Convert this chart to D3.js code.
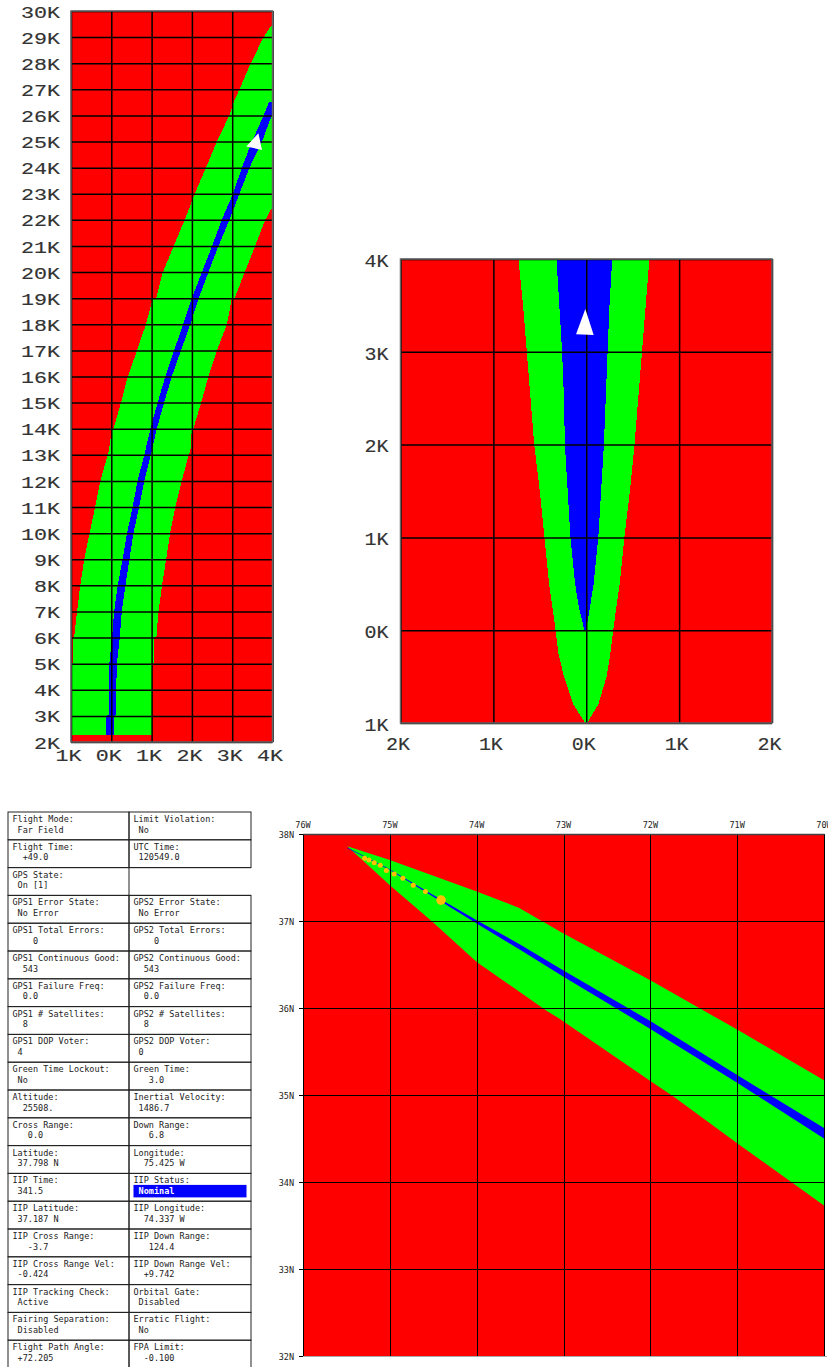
<!DOCTYPE html>
<html>
<head>
<meta charset="utf-8">
<script src="https://cdn.jsdelivr.net/npm/d3@7"></script>
<style>
  html, body { margin: 0; padding: 0; background: #fff; overflow: hidden; }
  svg { display: block; }
  .wide text { font-family: "Liberation Mono", monospace; fill: #333; stroke: #333; stroke-width: 0.15px; }
  .small text { font-family: "DejaVu Sans Mono", monospace; font-size: 8.5px; fill: #222; }
  .cell text { font-family: "DejaVu Sans Mono", monospace; font-size: 8.5px; fill: #222; white-space: pre; }
</style>
</head>
<body>
<div id="chart"></div>
<script>
// Altitude strip (top left): crossrange in K, altitude in K
const stripXTicks = [-1, 0, 1, 2, 3, 4];
const stripYTicks = [2, 3, 4, 5, 6, 7, 8, 9, 10, 11, 12, 13, 14, 15, 16, 17, 18, 19, 20, 21, 22, 23, 24, 25, 26, 27, 28, 29, 30];
const stripGreenAlt = [2.28, 5, 5.02, 6, 6.02, 7, 8, 9, 10, 11, 12, 13, 13.1, 14, 14.03, 15, 16, 17, 18, 19, 19.03, 20, 21, 22, 22.5, 23, 24, 25, 26, 26.45, 27, 28, 29, 29.5];
const stripGreenLeft = [-1, -1, -0.96, -0.95, -0.92, -0.85, -0.77, -0.67, -0.54, -0.40, -0.27, -0.09, -0.07, 0.02, 0.06, 0.24, 0.41, 0.64, 0.86, 1.03, 1.12, 1.28, 1.55, 1.82, 1.95, 2.07, 2.35, 2.62, 2.93, 3.02, 3.18, 3.46, 3.78, 4];
const stripGreenRight = [1, 1, 1.05, 1.05, 1.12, 1.17, 1.26, 1.36, 1.46, 1.59, 1.75, 1.92, 1.96, 2, 2.04, 2.23, 2.41, 2.62, 2.87, 2.99, 3.07, 3.31, 3.57, 3.82, 4, 4, 4, 4, 4, 4, 4, 4, 4, 4];
const stripBlueAlt = [2.28, 3, 3.05, 4, 5, 6, 7, 8, 9, 10, 11, 12, 13, 14, 15, 16, 17, 18, 19, 20, 21, 22, 23, 24, 25, 26, 26.5];
const stripBlueLeft = [-0.12, -0.12, -0.05, -0.05, -0.05, 0.02, 0.07, 0.16, 0.28, 0.39, 0.53, 0.65, 0.82, 0.97, 1.15, 1.34, 1.56, 1.78, 2, 2.25, 2.5, 2.74, 3.02, 3.24, 3.49, 3.78, 3.91];
const stripBlueRight = [0.07, 0.07, 0.12, 0.12, 0.14, 0.21, 0.26, 0.35, 0.45, 0.55, 0.69, 0.82, 0.98, 1.13, 1.31, 1.5, 1.73, 1.96, 2.17, 2.41, 2.66, 2.93, 3.18, 3.43, 3.74, 3.98, 4];
const stripVehicleX = [3.65, 3.35, 3.74];
const stripVehicleY = [25.32, 24.81, 24.68];

// Launch area (top right)
const padXTicks = [-2, -1, 0, 1, 2];
const padYTicks = [-1, 0, 1, 2, 3, 4];
const padGreenAlt = [-1, -0.8, -0.5, -0.25, 0, 0.5, 1, 1.5, 2, 2.5, 3, 3.5, 4];
const padGreenLeft = [-0.01, -0.14, -0.24, -0.30, -0.33, -0.40, -0.45, -0.50, -0.56, -0.60, -0.64, -0.68, -0.73];
const padGreenRight = [0.01, 0.13, 0.22, 0.26, 0.29, 0.36, 0.41, 0.47, 0.52, 0.56, 0.60, 0.64, 0.68];
const padBlueAlt = [0, 0.25, 0.5, 1, 1.5, 2, 2.5, 3, 3.5, 4];
const padBlueLeft = [-0.02, -0.08, -0.12, -0.17, -0.20, -0.23, -0.24, -0.26, -0.29, -0.32];
const padBlueRight = [0, 0.04, 0.08, 0.13, 0.16, 0.19, 0.21, 0.23, 0.25, 0.28];
const padVehicleX = [-0.01, -0.11, 0.08];
const padVehicleY = [3.46, 3.19, 3.18];

// Map (bottom right)
const lonTicks = [76, 75, 74, 73, 72, 71, 70];
const latTicks = [38, 37, 36, 35, 34, 33, 32];
const greenUpperLon = [75.49, 75, 74, 73.51, 72.99, 72, 70.98, 70];
const greenUpperLat = [37.86, 37.70, 37.34, 37.15, 36.85, 36.32, 35.74, 35.17];
const greenLowerLon = [70, 70.98, 71.73, 72, 73.05, 73.2, 74, 74.51, 75, 75.49];
const greenLowerLat = [33.73, 34.43, 34.98, 35.16, 35.88, 35.97, 36.53, 36.99, 37.41, 37.86];
const blueLon = [75.49, 75.29, 75, 74.5, 74, 73.5, 73, 72, 71, 70];
const blueTop = [37.845, 37.745, 37.595, 37.30, 37.01, 36.73, 36.43, 35.85, 35.23, 34.62];
const blueBottom = [37.835, 37.735, 37.585, 37.28, 36.97, 36.67, 36.36, 35.76, 35.14, 34.50];
const trackLon = [75.29, 75.24, 75.18, 75.11, 75.04, 74.95, 74.85, 74.73, 74.59];
const trackLat = [37.72, 37.70, 37.67, 37.64, 37.58, 37.54, 37.49, 37.41, 37.34];
const iipLon = 74.41, iipLat = 37.24;

// Status table
const leftLabels = ["Flight Mode:", "Flight Time:", "GPS State:", "GPS1 Error State:", "GPS1 Total Errors:", "GPS1 Continuous Good:", "GPS1 Failure Freq:", "GPS1 # Satellites:", "GPS1 DOP Voter:", "Green Time Lockout:", "Altitude:", "Cross Range:", "Latitude:", "IIP Time:", "IIP Latitude:", "IIP Cross Range:", "IIP Cross Range Vel:", "IIP Tracking Check:", "Fairing Separation:", "Flight Path Angle:"];
const leftValues = [" Far Field", "  +49.0", " On [1]", " No Error", "    0", "  543", "  0.0", "  8", " 4", " No", "  25508.", "   0.0", " 37.798 N", " 341.5", " 37.187 N", "   -3.7", " -0.424", " Active", " Disabled", " +72.205"];
const rightLabels = ["Limit Violation:", "UTC Time:", "", "GPS2 Error State:", "GPS2 Total Errors:", "GPS2 Continuous Good:", "GPS2 Failure Freq:", "GPS2 # Satellites:", "GPS2 DOP Voter:", "Green Time:", "Inertial Velocity:", "Down Range:", "Longitude:", "IIP Status:", "IIP Longitude:", "IIP Down Range:", "IIP Down Range Vel:", "Orbital Gate:", "Erratic Flight:", "FPA Limit:"];
const rightValues = [" No", " 120549.0", "", " No Error", "    0", "  543", "  0.0", "  8", " 0", "   3.0", " 1486.7", "   6.8", "  75.425 W", " Nominal", "  74.337 W", "   124.4", "  +9.742", " Disabled", " No", "  -0.100"];

const svg = d3.select("#chart").append("svg")
    .attr("width", 828)
    .attr("height", 1367);

function band(g, alt, lo, hi, x, y, color) {
    const area = d3.area()
        .y(i => y(alt[i]))
        .x0(i => x(lo[i]))
        .x1(i => x(hi[i]));
    g.append("path")
        .attr("d", area(d3.range(alt.length)))
        .attr("fill", color)
        .attr("shape-rendering", "crispEdges");
}

function vehicle(g, xs, ys, x, y) {
    g.append("path")
        .attr("d", d3.line().x(i => x(xs[i])).y(i => y(ys[i]))(d3.range(xs.length)) + "Z")
        .attr("fill", "#fff");
}

// Red field, corridors and black grid with wide terminal-style labels
function corridorChart(opt) {
    const g = svg.append("g").attr("class", "wide")
        .attr("transform", `translate(${opt.left}, ${opt.top})`);
    const x = d3.scaleLinear().domain(d3.extent(opt.xTicks)).range([0, opt.width]);
    const y = d3.scaleLinear().domain(d3.extent(opt.yTicks)).range([opt.height, 0]);

    g.append("rect").attr("width", opt.width).attr("height", opt.height).attr("fill", "#ff0000");
    band(g, opt.greenAlt, opt.greenLeft, opt.greenRight, x, y, "#00ff00");
    band(g, opt.blueAlt, opt.blueLeft, opt.blueRight, x, y, "#0000ff");

    const fmt = d => Math.abs(d) + "K";
    const yAxis = g.append("g")
        .call(d3.axisLeft(y).tickValues(opt.yTicks).tickFormat(fmt).tickSize(-opt.width).tickPadding(opt.yPad));
    const xAxis = g.append("g")
        .attr("transform", `translate(0,${opt.height})`)
        .call(d3.axisBottom(x).tickValues(opt.xTicks).tickFormat(fmt).tickSize(-opt.height).tickPadding(opt.xPad));

    [yAxis, xAxis].forEach(a => {
        a.select(".domain").remove();
        a.selectAll("line").attr("stroke", "#000").attr("stroke-width", opt.grid);
        a.selectAll("text")
            .style("font-size", opt.font + "px")
            .attr("textLength", d => fmt(d).length * opt.charWidth)
            .attr("lengthAdjust", "spacingAndGlyphs");
    });
    xAxis.selectAll("text").attr("dx", -3);
    yAxis.selectAll("text").attr("dy", "0.38em");

    g.append("rect").attr("width", opt.width).attr("height", opt.height)
        .attr("fill", "none").attr("stroke", "#666").attr("stroke-width", 1.5);
    vehicle(g, opt.vehicleX, opt.vehicleY, x, y);
}

corridorChart({
    left: 71, top: 11, width: 201.5, height: 731,
    xTicks: stripXTicks, yTicks: stripYTicks,
    greenAlt: stripGreenAlt, greenLeft: stripGreenLeft, greenRight: stripGreenRight,
    blueAlt: stripBlueAlt, blueLeft: stripBlueLeft, blueRight: stripBlueRight,
    vehicleX: stripVehicleX, vehicleY: stripVehicleY,
    font: 16, charWidth: 13, yPad: 11, xPad: 8, grid: 1.5
});

corridorChart({
    left: 400.5, top: 259, width: 371.5, height: 464,
    xTicks: padXTicks, yTicks: padYTicks,
    greenAlt: padGreenAlt, greenLeft: padGreenLeft, greenRight: padGreenRight,
    blueAlt: padBlueAlt, blueLeft: padBlueLeft, blueRight: padBlueRight,
    vehicleX: padVehicleX, vehicleY: padVehicleY,
    font: 19, charWidth: 12, yPad: 12, xPad: 14, grid: 1.5
});

// Map
const mapW = 521, mapH = 522;
const map = svg.append("g").attr("class", "small").attr("transform", "translate(303, 834)");
const lon = d3.scaleLinear().domain([76, 70]).range([0, mapW]);
const lat = d3.scaleLinear().domain([38, 32]).range([0, mapH]);

map.append("rect").attr("width", mapW).attr("height", mapH).attr("fill", "#ff0000");

const poly = d3.line().x(d => lon(d[0])).y(d => lat(d[1]));
const greenOutline = d3.zip(greenUpperLon, greenUpperLat).concat(d3.zip(greenLowerLon, greenLowerLat));
map.append("path").attr("d", poly(greenOutline) + "Z").attr("fill", "#00ff00");

const blueArea = d3.area()
    .x(d => lon(d[0]))
    .y0(d => lat(d[1]))
    .y1(d => lat(d[2]));
map.append("path").attr("d", blueArea(d3.zip(blueLon, blueTop, blueBottom))).attr("fill", "#0000ff");

const lonGrid = map.append("g").call(d3.axisTop(lon).tickValues(lonTicks).tickFormat("").tickSize(-mapH));
const latGrid = map.append("g").call(d3.axisLeft(lat).tickValues(latTicks).tickFormat("").tickSize(-mapW));
[lonGrid, latGrid].forEach(a => {
    a.select(".domain").remove();
    a.selectAll("line").attr("stroke", "#000").attr("stroke-width", 1).attr("shape-rendering", "crispEdges");
});

map.append("g").call(d3.axisTop(lon).tickValues(lonTicks).tickFormat(d => d + "W").tickSize(0).tickPadding(6))
    .call(a => a.select(".domain").attr("stroke", "#444").attr("stroke-width", 1.5))
    .call(a => a.selectAll("text").attr("dx", -0.5));
map.append("g").call(d3.axisLeft(lat).tickValues(latTicks).tickFormat(d => d + "N").tickSize(4).tickPadding(5))
    .call(a => a.select(".domain").remove())
    .call(a => a.selectAll("text").attr("dy", "0.42em"));
map.append("line").attr("x1", 0).attr("x2", mapW + 3).attr("y1", mapH + 0.5).attr("y2", mapH + 0.5).attr("stroke", "#aaa");

map.append("g").selectAll("circle")
    .data(d3.zip(trackLon, trackLat))
    .join("circle")
    .attr("cx", d => lon(d[0]))
    .attr("cy", d => lat(d[1]))
    .attr("r", 2.5)
    .attr("fill", "#ffc000");
map.append("circle").attr("cx", lon(iipLon)).attr("cy", lat(iipLat)).attr("r", 4.8).attr("fill", "#ffc000");

// Table
const rowH = 27.8, colW = [121, 122];
const table = svg.append("g").attr("class", "cell").attr("transform", "translate(8, 812)");
const row = d3.scaleLinear().domain([0, 1]).range([0, rowH]);

leftLabels.forEach((label, i) => {
    const cells = [[label, leftValues[i], 0, colW[0]], [rightLabels[i], rightValues[i], colW[0], colW[1]]];
    cells.forEach(([name, value, cx, cw], c) => {
        const cell = table.append("g").attr("transform", `translate(${cx}, ${row(i)})`);
        if (name === "") {
            // the empty cell beside GPS State has no right border
            cell.append("line").attr("x1", 0).attr("x2", cw).attr("stroke", "#222");
            cell.append("line").attr("x1", 0).attr("x2", cw).attr("y1", rowH).attr("y2", rowH).attr("stroke", "#222");
            return;
        }
        cell.append("rect").attr("width", cw).attr("height", rowH)
            .attr("fill", "none").attr("stroke", "#222").attr("stroke-width", 1);
        if (value === " Nominal") {
            cell.append("rect").attr("x", 4.5).attr("y", 11.5).attr("width", 113).attr("height", 12.5).attr("fill", "#0000ff");
        }
        cell.append("text").attr("x", 4.5).attr("y", 10).text(name);
        cell.append("text").attr("x", 4.5).attr("y", 20.5).text(value)
            .style("fill", value === " Nominal" ? "#fff" : null)
            .style("font-weight", value === " Nominal" ? "bold" : null);
    });
});
</script>
</body>
</html>
